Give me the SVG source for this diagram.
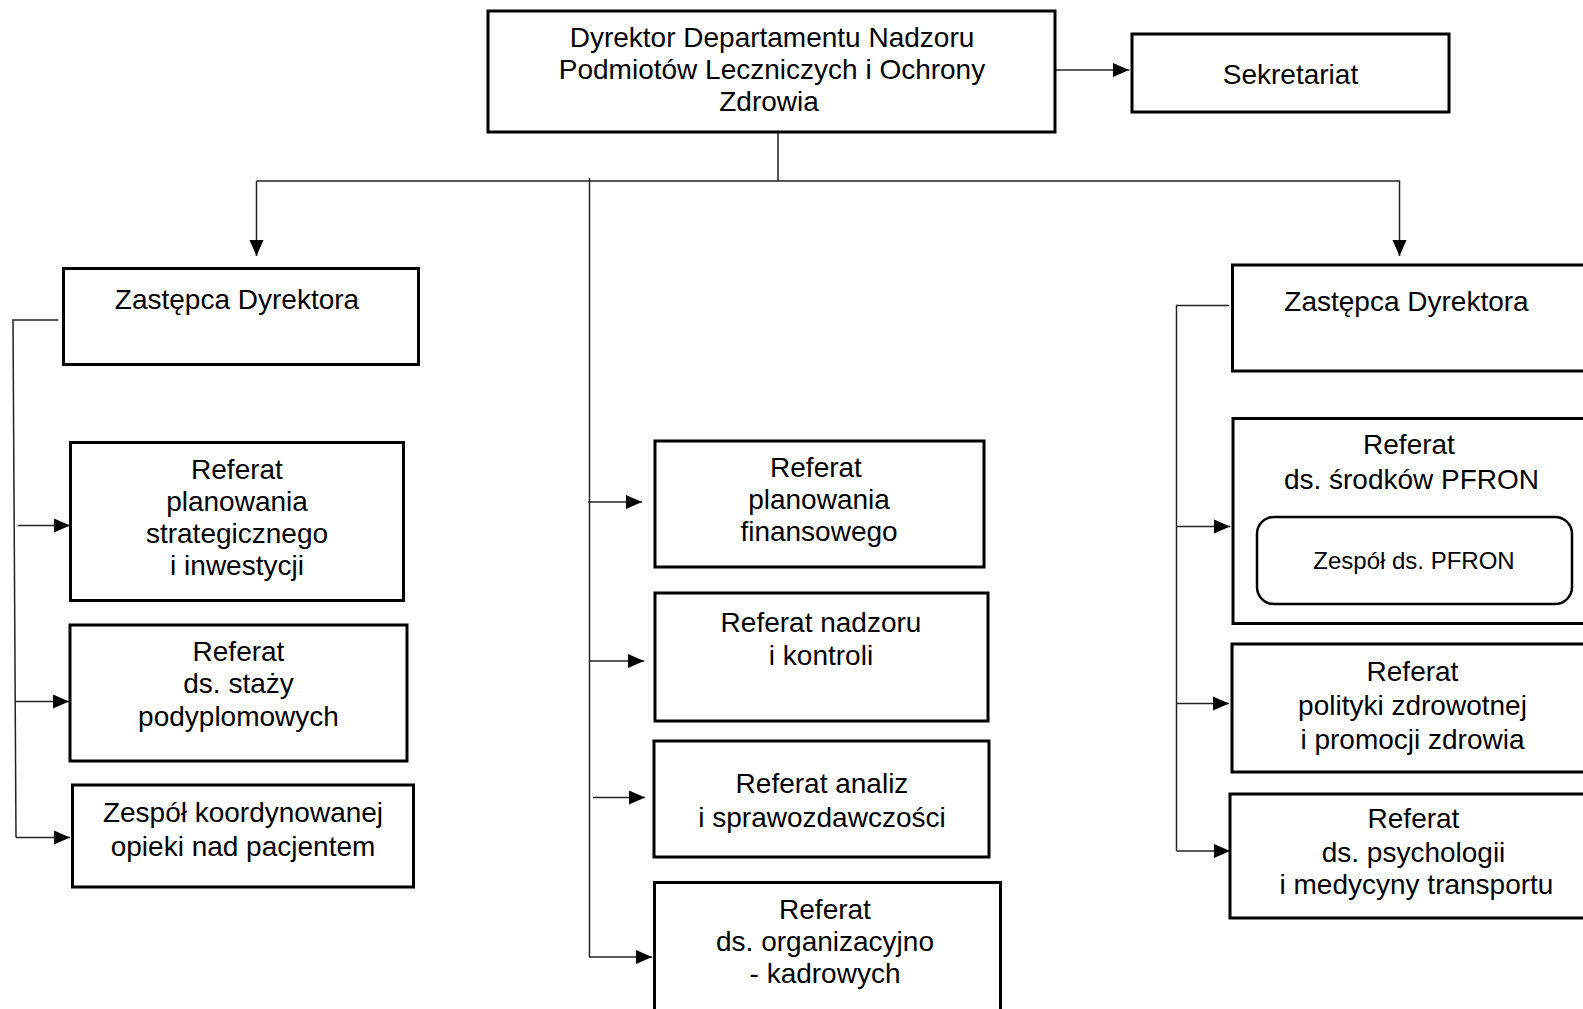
<svg xmlns="http://www.w3.org/2000/svg" width="1583" height="1009" viewBox="0 0 1583 1009">
<style>
.box{fill:#fff;stroke:#000;stroke-width:3}
.t{font-family:"Liberation Sans",Arial,sans-serif;font-size:28px;fill:#000;text-anchor:middle}
.s{font-family:"Liberation Sans",Arial,sans-serif;font-size:24px;fill:#000;text-anchor:middle}
.c{fill:none;stroke:#222;stroke-width:1.5}
</style>
<defs>
<marker id="ah" markerUnits="userSpaceOnUse" markerWidth="16" markerHeight="16" viewBox="0 0 16 16" refX="16" refY="8" orient="auto">
<path d="M0,1 L16,8 L0,15 Z" fill="#000"/>
</marker>
</defs>
<rect width="1583" height="1009" fill="#fff"/>
<g id="connectors">
<line class="c" x1="1055" y1="70" x2="1129" y2="70" marker-end="url(#ah)"/>
<line class="c" x1="778" y1="132" x2="778" y2="181"/>
<path class="c" d="M256.5,181 H1399.5 V256" marker-end="url(#ah)"/>
<line class="c" x1="256.5" y1="181" x2="256.5" y2="256" marker-end="url(#ah)"/>
<line class="c" x1="589.5" y1="178" x2="589.5" y2="957"/>
<line class="c" x1="588" y1="502" x2="642" y2="502" marker-end="url(#ah)"/>
<line class="c" x1="589" y1="661" x2="644" y2="661" marker-end="url(#ah)"/>
<line class="c" x1="593" y1="797.5" x2="645" y2="797.5" marker-end="url(#ah)"/>
<line class="c" x1="589" y1="957" x2="652" y2="957" marker-end="url(#ah)"/>
<path class="c" d="M58,320 H13 L16,837.5"/>
<line class="c" x1="18" y1="525.5" x2="70" y2="525.5" marker-end="url(#ah)"/>
<line class="c" x1="15" y1="701.5" x2="69" y2="701.5" marker-end="url(#ah)"/>
<line class="c" x1="16" y1="837.5" x2="70" y2="837.5" marker-end="url(#ah)"/>
<path class="c" d="M1229,305.5 H1176.5 V851"/>
<line class="c" x1="1176.5" y1="526.5" x2="1230" y2="526.5" marker-end="url(#ah)"/>
<line class="c" x1="1176.5" y1="703.5" x2="1229" y2="703.5" marker-end="url(#ah)"/>
<line class="c" x1="1176.5" y1="851" x2="1230" y2="851" marker-end="url(#ah)"/>
</g>
<g id="dyrektor">
<rect class="box" x="488" y="11" width="567" height="121"/>
<text class="t" x="772" y="47">Dyrektor Departamentu Nadzoru</text>
<text class="t" x="772" y="79">Podmiotów Leczniczych i Ochrony</text>
<text class="t" x="769" y="111">Zdrowia</text>
</g>
<g id="sekretariat">
<rect class="box" x="1132" y="34" width="317" height="78"/>
<text class="t" x="1290.5" y="84">Sekretariat</text>
</g>
<g id="zastepca-left">
<rect class="box" x="63.5" y="268.5" width="355" height="96"/>
<text class="t" x="237" y="309">Zastępca Dyrektora</text>
</g>
<g id="ref-strategiczny">
<rect class="box" x="70.5" y="442.5" width="333" height="158"/>
<text class="t" x="237" y="479">Referat</text>
<text class="t" x="237" y="511">planowania</text>
<text class="t" x="237" y="543">strategicznego</text>
<text class="t" x="237" y="575">i inwestycji</text>
</g>
<g id="ref-staze">
<rect class="box" x="70" y="625" width="337" height="136"/>
<text class="t" x="238.5" y="661">Referat</text>
<text class="t" x="238.5" y="693">ds. staży</text>
<text class="t" x="238.5" y="726">podyplomowych</text>
</g>
<g id="zespol-koordynowanej">
<rect class="box" x="72.5" y="785" width="341" height="102"/>
<text class="t" x="243" y="822">Zespół koordynowanej</text>
<text class="t" x="243" y="856">opieki nad pacjentem</text>
</g>
<g id="ref-finansowy">
<rect class="box" x="655" y="441" width="329" height="126"/>
<text class="t" x="816" y="477">Referat</text>
<text class="t" x="819" y="509">planowania</text>
<text class="t" x="819" y="541">finansowego</text>
</g>
<g id="ref-nadzoru">
<rect class="box" x="655" y="593" width="333" height="128"/>
<text class="t" x="821" y="632">Referat nadzoru</text>
<text class="t" x="821" y="665">i kontroli</text>
</g>
<g id="ref-analiz">
<rect class="box" x="654" y="741" width="335" height="116"/>
<text class="t" x="822" y="793">Referat analiz</text>
<text class="t" x="822" y="827">i sprawozdawczości</text>
</g>
<g id="ref-organizacyjny">
<rect class="box" x="654.5" y="882.5" width="346" height="140"/>
<text class="t" x="825" y="919">Referat</text>
<text class="t" x="825" y="951">ds. organizacyjno</text>
<text class="t" x="825" y="983">- kadrowych</text>
</g>
<g id="zastepca-right">
<rect class="box" x="1232.5" y="265" width="370" height="106"/>
<text class="t" x="1406.5" y="311">Zastępca Dyrektora</text>
</g>
<g id="ref-pfron">
<rect class="box" x="1233" y="418.5" width="370" height="205"/>
<text class="t" x="1409" y="454">Referat</text>
<text class="t" x="1411.5" y="489">ds. środków PFRON</text>
<g id="zespol-pfron">
<rect x="1257" y="517" width="315" height="87" rx="17" ry="17" fill="#fff" stroke="#000" stroke-width="2.5"/>
<text class="s" x="1414" y="569">Zespół ds. PFRON</text>
</g>
</g>
<g id="ref-polityki">
<rect class="box" x="1232" y="644" width="370" height="128"/>
<text class="t" x="1412.5" y="681">Referat</text>
<text class="t" x="1412.5" y="715">polityki zdrowotnej</text>
<text class="t" x="1412.5" y="749">i promocji zdrowia</text>
</g>
<g id="ref-psychologii">
<rect class="box" x="1230" y="794" width="372" height="124"/>
<text class="t" x="1413.5" y="828">Referat</text>
<text class="t" x="1413.5" y="862">ds. psychologii</text>
<text class="t" x="1416.5" y="894">i medycyny transportu</text>
</g>
</svg>
